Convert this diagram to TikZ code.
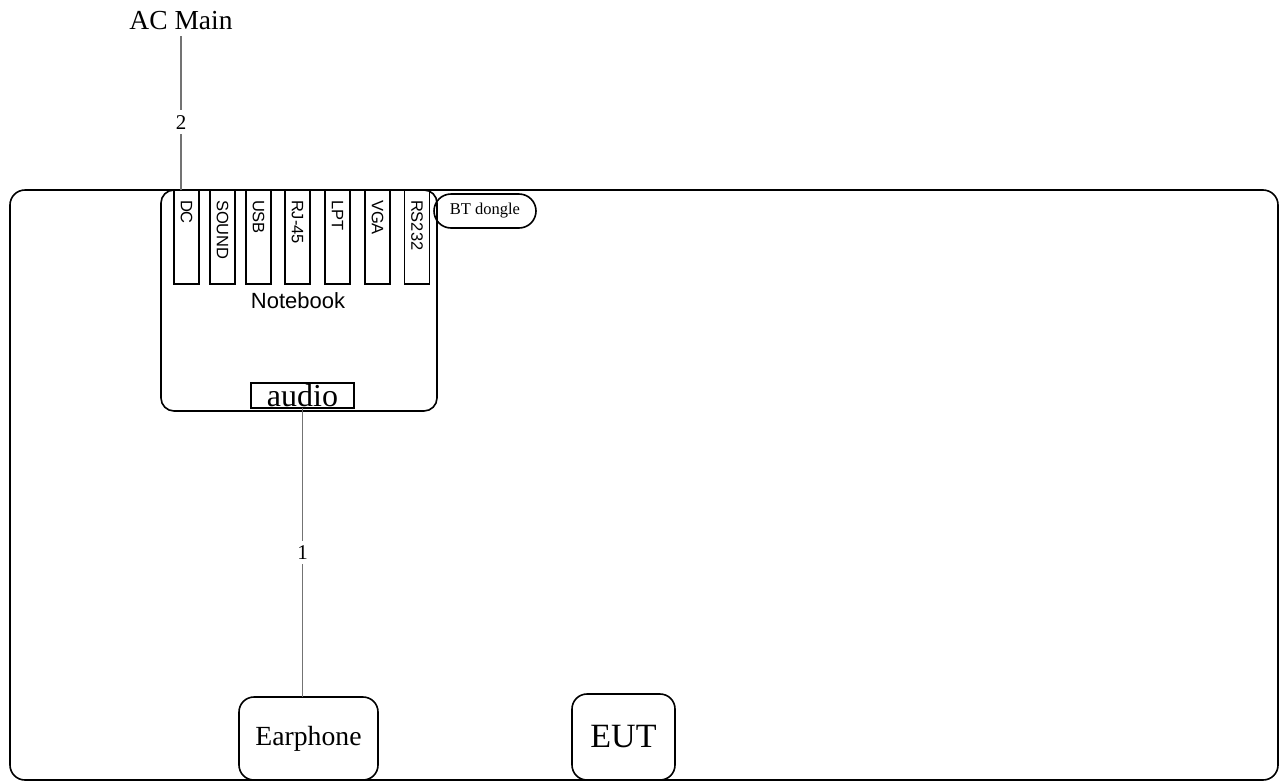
\documentclass[tikz,border=0pt]{standalone}
\usepackage{fontspec}
\setmainfont{Liberation Serif}
\setsansfont{Liberation Sans}
\begin{document}
\begin{tikzpicture}[x=1pt,y=-1pt,
  box/.style={draw, line width=1.6pt, inner sep=0pt, outer sep=0pt},
  port/.style={draw, line width=1.6pt, rotate=-90, minimum width=94pt, minimum height=25pt,
     text width=74pt, inner xsep=10pt, inner ysep=0pt, align=left, outer sep=0pt,
     font=\sffamily\fontsize{16.5}{16.5}\selectfont},
  wire/.style={draw=black!55, line width=1.5pt},
  wlabel/.style={fill=white, inner xsep=1.5pt, inner ysep=5pt, font=\fontsize{21}{21}\selectfont}]
\useasboundingbox (0,0) rectangle (1281,782);
\node[box, rounded corners=15pt, minimum width=1268pt, minimum height=590pt] (frame) at (644,485) {};
\node[box, rounded corners=13pt, minimum width=276pt, minimum height=221pt, fill=white] (nb) at (299,300.5) {};
\node[font=\sffamily\fontsize{22}{22}\selectfont] (nblabel) at (298,301) {Notebook};
\node[port] (dc) at (186.5,237) {DC};
\node[port] (sound) at (222.5,237) {SOUND};
\node[port] (usb) at (258.5,237) {USB};
\node[port] (rj) at (297.5,237) {RJ-45};
\node[port] (lpt) at (337.5,237) {LPT};
\node[port] (vga) at (377.5,237) {VGA};
\node[port] (rs) at (417,237) {RS232};
\node[box, rounded corners=17pt, minimum width=102pt, minimum height=34pt, font=\fontsize{16.5}{16.5}\selectfont] (bt) at (485,211) {BT dongle};
\node[box, minimum width=103pt, minimum height=25pt, font=\fontsize{32}{32}\selectfont] (audio) at (302.5,395.5) {audio};
\node[box, rounded corners=15pt, minimum width=139pt, minimum height=83pt, font=\fontsize{27.7}{27.7}\selectfont] (ear) at (308.5,738.5) {Earphone};
\node[box, rounded corners=15pt, minimum width=103pt, minimum height=86pt, font=\fontsize{34}{34}\selectfont] (eut) at (623.5,737) {EUT};
\node[inner sep=2pt, font=\fontsize{27.5}{27.5}\selectfont] (ac) at (181,21) {AC Main};
\coordinate (acbot) at ([yshift=-4pt]ac.south);
\coordinate (dctop) at (ac.south |- dc.west);
\draw[wire] (acbot) -- node[wlabel, pos=0.56] {2} (dctop);
\draw[wire] (audio.south) -- node[wlabel] {1} (audio.south |- ear.north);
\end{tikzpicture}
\end{document}
